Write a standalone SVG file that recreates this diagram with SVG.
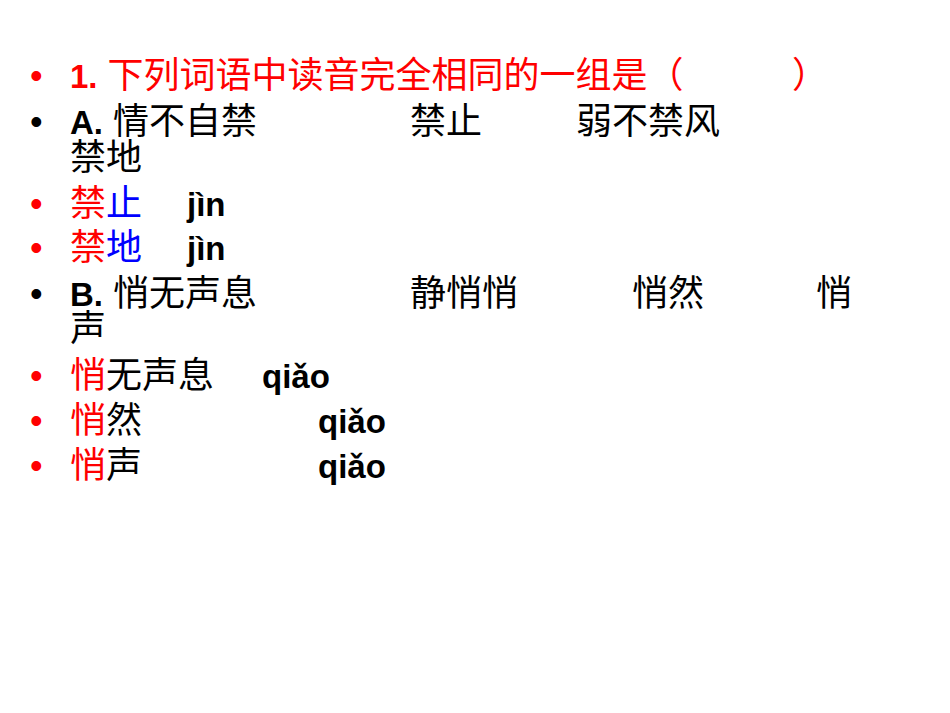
<svg xmlns="http://www.w3.org/2000/svg" width="950" height="713" viewBox="0 0 950 713">
<style>
text{font-family:"Liberation Sans","Noto Sans CJK SC",sans-serif;font-size:36px;fill:#000}
.r{fill:#ff0000}.b{fill:#0000ff}.k{font-weight:bold;font-size:33px}
</style>
<rect width="950" height="713" fill="#fff"/>
<g id="line1"><text x="30" y="88" class="r">•</text><text x="70" y="88" class="r"><tspan class="k">1.</tspan> 下列词语中读音完全相同的一组是（</text><text x="792" y="88" class="r">）</text></g>
<g id="lineA"><text x="30" y="134">•</text><text x="70" y="134"><tspan class="k">A.</tspan> 情不自禁</text><text x="410" y="134">禁止</text><text x="576" y="134">弱不禁风</text><text x="70" y="170">禁地</text></g>
<g id="l4"><text x="30" y="216" class="r">•</text><text x="70" y="216"><tspan class="r">禁</tspan><tspan class="b">止</tspan></text><text x="187" y="216" class="k">jìn</text></g>
<g id="l5"><text x="30" y="260" class="r">•</text><text x="70" y="260"><tspan class="r">禁</tspan><tspan class="b">地</tspan></text><text x="187" y="260" class="k">jìn</text></g>
<g id="lineB"><text x="30" y="306">•</text><text x="70" y="306"><tspan class="k">B.</tspan> 悄无声息</text><text x="410" y="306">静悄悄</text><text x="632" y="306">悄然</text><text x="816" y="306">悄</text><text x="70" y="341">声</text></g>
<g id="l8"><text x="30" y="388" class="r">•</text><text x="70" y="388"><tspan class="r">悄</tspan>无声息</text><text x="262" y="388" class="k">qiǎo</text></g>
<g id="l9"><text x="30" y="433" class="r">•</text><text x="70" y="433"><tspan class="r">悄</tspan>然</text><text x="318" y="433" class="k">qiǎo</text></g>
<g id="l10"><text x="30" y="478" class="r">•</text><text x="70" y="478"><tspan class="r">悄</tspan>声</text><text x="318" y="478" class="k">qiǎo</text></g>
</svg>
